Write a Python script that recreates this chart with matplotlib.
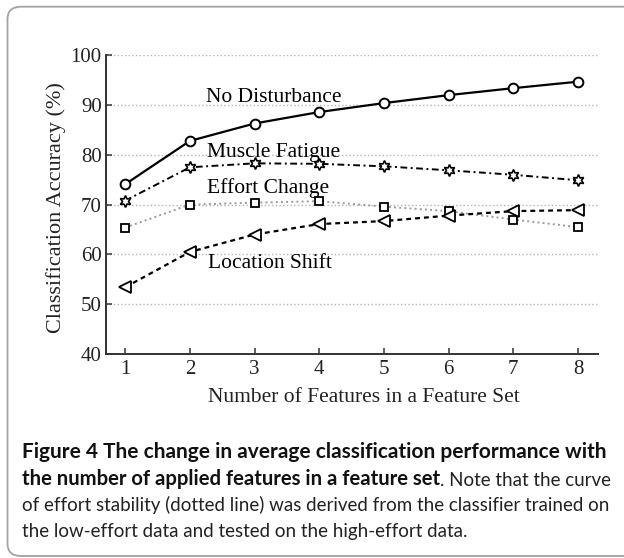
import numpy as np
import matplotlib.pyplot as plt
from matplotlib.patches import FancyBboxPatch

# values
n_features = [1, 2, 3, 4, 5, 6, 7, 8]
no_disturbance = [74.1, 82.8, 86.3, 88.6, 90.4, 92.0, 93.4, 94.7]
muscle_fatigue = [70.8, 77.5, 78.3, 78.2, 77.7, 76.9, 76.0, 74.9]
effort_change = [65.4, 70.0, 70.4, 70.7, 69.6, 68.7, 67.0, 65.5]
location_shift = [53.4, 60.5, 64.0, 66.1, 66.7, 67.8, 68.7, 68.9]
y_ticks = [40, 50, 60, 70, 80, 90, 100]

W, H = 624, 558
def fx(px):
    return px / W
def fy(py):
    return 1 - py / H

serif = "Liberation Serif"
sans = "Lato"

fig = plt.figure(figsize=(6.24, 5.58), dpi=100)

# rounded frame round figure + caption (open on the right/bottom edge)
frame = FancyBboxPatch((fx(7.5), fy(556)), fx(660) - fx(7.5), fy(6.7) - fy(556),
                       boxstyle="round,pad=0,rounding_size=0.022",
                       transform=fig.transFigure, fc="white", ec="#a3a3a3", lw=1.3,
                       zorder=-5)
fig.patches.append(frame)

ax = fig.add_axes([fx(105.8), fy(354), fx(598) - fx(105.8), fy(55.3) - fy(354)])
ax.patch.set_alpha(0)

ax.plot(n_features, no_disturbance, color="k", ls="-", lw=1.6,
        marker="o", ms=7, mfc="white", mec="k", mew=1.4, zorder=5)
ax.plot(n_features, muscle_fatigue, color="k", ls=(0, (3.5, 1.8, 1, 1.8)), lw=1.4,
        marker=(6, 1, 0), ms=8.5, mfc="white", mec="k", mew=1.2, zorder=4)
ax.plot(n_features, effort_change, color="#9a9a9a", ls=":", lw=1.4,
        marker="s", ms=6, mfc="white", mec="k", mew=1.3, zorder=3)
ax.plot(n_features, location_shift, color="k", ls=(0, (2.2, 1.8)), lw=1.6,
        marker="<", ms=8, mfc="white", mec="k", mew=1.3, zorder=4)

ax.text(2.25, 90.6, "No Disturbance", fontsize=15.5, family=serif, va="baseline")
ax.text(2.26, 79.6, "Muscle Fatigue", fontsize=15.5, family=serif, va="baseline")
ax.text(2.26, 72.4, "Effort Change", fontsize=15.5, family=serif, va="baseline")
ax.text(2.28, 57.2, "Location Shift", fontsize=15.5, family=serif, va="baseline")

ax.set_xlim(0.7, 8.31)
ax.set_ylim(40, 100)
ax.set_xticks(n_features)
ax.set_yticks(y_ticks)
ax.yaxis.grid(True, ls=":", color="#b5b5b5", lw=1.0)
ax.set_axisbelow(True)
for s in ["top", "right"]:
    ax.spines[s].set_visible(False)
for s in ["left", "bottom"]:
    ax.spines[s].set_color("#333333")
    ax.spines[s].set_linewidth(1.4)
ax.tick_params(direction="in", length=4, width=1.1, color="#333333", labelsize=15)
ax.tick_params(axis="x", pad=4)
ax.tick_params(axis="y", pad=3)
for lab in ax.get_xticklabels() + ax.get_yticklabels():
    lab.set_family(serif)
    lab.set_color("#222222")

fig.text(fx(364), fy(402), "Number of Features in a Feature Set", family=serif,
         fontsize=15.5, ha="center", va="baseline", color="#222222")
fig.text(fx(55.7), fy(207.5), "Classification Accuracy (%)", family=serif,
         fontsize=16, ha="center", va="center", rotation=90, color="#222222")

# caption
x0 = fx(22)
fig.text(x0, fy(458.3), "Figure 4 The change in average classification performance with",
         family=sans, fontsize=15, weight="bold", va="baseline", color="#111111")
bold2 = fig.text(x0, fy(484.6), "the number of applied features in a feature set",
                 family=sans, fontsize=14.6, weight="bold", va="baseline", color="#111111")
note = ax.annotate(". Note that the curve", xy=(1, 0), xycoords=bold2, va="bottom", ha="left",
                   family=sans, fontsize=15, color="#222222", annotation_clip=False)
line3 = fig.text(x0, fy(511), "of effort stability (dotted line) was derived from the classifier trained on",
                 family=sans, fontsize=15, va="baseline", color="#222222")
line4 = fig.text(x0, fy(537.3), "the low-effort data and tested on the high-effort data.",
                 family=sans, fontsize=15, va="baseline", color="#222222")

# regular caption text: shrink so the long line spans like the original
r = fig.canvas.get_renderer()
w3 = line3.get_window_extent(r).width
size = 15 * 589 / w3
for t in (note, line3, line4):
    t.set_fontsize(size)

fig.savefig("out.png", dpi=100)
